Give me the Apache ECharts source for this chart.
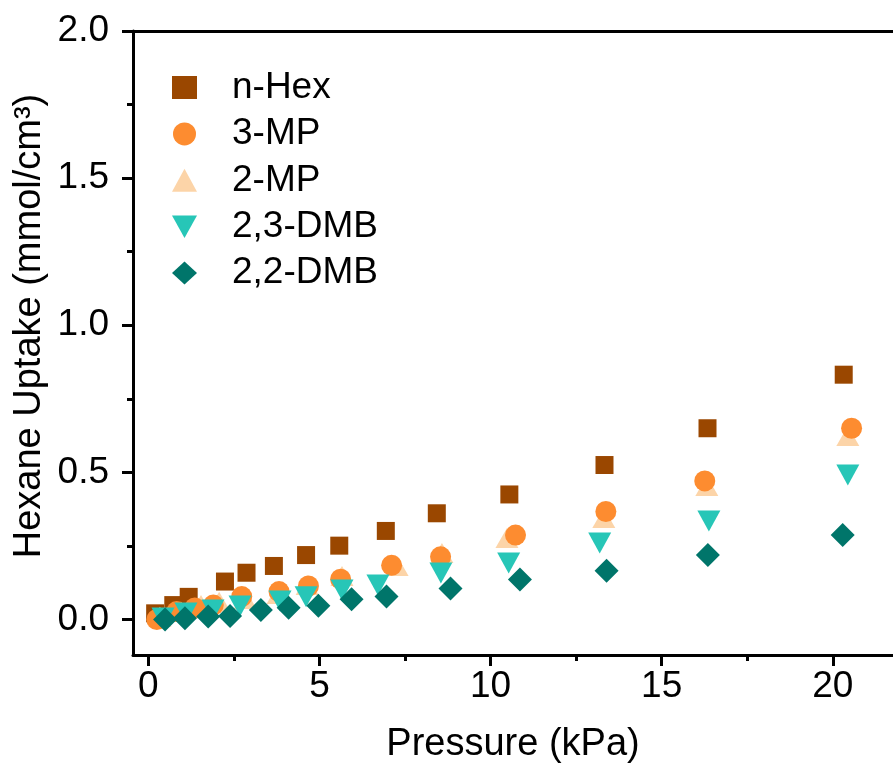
<!DOCTYPE html>
<html>
<head>
<meta charset="utf-8">
<script src="https://cdn.jsdelivr.net/npm/echarts@6/dist/echarts.min.js"></script>
<style>
html,body{margin:0;padding:0;background:#fff;}
#chart{width:893px;height:776px;}
</style>
</head>
<body>
<div id="chart"></div>
<script>
// ---- data ----
const seriesNames = ['n-Hex', '3-MP', '2-MP', '2,3-DMB', '2,2-DMB'];

const nHexP = [0.20, 0.73, 1.18, 2.24, 2.87, 3.67, 4.61, 5.58, 6.94, 8.43, 10.55, 13.33, 16.34, 20.32];
const nHexU = [0.021, 0.049, 0.077, 0.129, 0.159, 0.182, 0.219, 0.251, 0.301, 0.361, 0.425, 0.525, 0.650, 0.832];

const mp3P = [0.25, 0.83, 1.36, 1.90, 2.73, 3.82, 4.68, 5.62, 7.11, 8.54, 10.73, 13.37, 16.26, 20.55];
const mp3U = [0.000, 0.027, 0.039, 0.049, 0.078, 0.095, 0.114, 0.137, 0.184, 0.213, 0.287, 0.367, 0.471, 0.650];

const mp2P = [0.34, 0.96, 1.54, 2.07, 2.83, 3.79, 4.64, 5.66, 7.27, 8.58, 10.48, 13.31, 16.32, 20.44];
const mp2U = [0.009, 0.026, 0.049, 0.060, 0.070, 0.087, 0.117, 0.148, 0.182, 0.226, 0.277, 0.345, 0.454, 0.624];

const dmb23P = [0.43, 1.10, 1.89, 2.68, 3.85, 4.61, 5.66, 6.71, 8.55, 10.53, 13.19, 16.38, 20.44];
const dmb23U = [0.005, 0.022, 0.032, 0.046, 0.063, 0.077, 0.100, 0.117, 0.158, 0.192, 0.260, 0.335, 0.491];

const dmb22P = [0.49, 1.07, 1.75, 2.39, 3.29, 4.10, 4.97, 5.94, 6.96, 8.83, 10.86, 13.39, 16.35, 20.29];
const dmb22U = [0.000, 0.004, 0.010, 0.012, 0.032, 0.040, 0.047, 0.069, 0.078, 0.105, 0.136, 0.166, 0.219, 0.287];

const xMajorTicks = [0, 5, 10, 15, 20];
const xMinorTicks = [2.5, 7.5, 12.5, 17.5];
const yMajorTicks = [0, 0.5, 1.0, 1.5, 2.0];
const yMinorTicks = [0.25, 0.75, 1.25, 1.75];

const xTitle = 'Pressure (kPa)';
const yTitle = 'Hexane Uptake (mmol/cm³)';

// ---- chart ----
const FONT = "'Liberation Sans', Arial, Helvetica, sans-serif";
const FS = 37;
const FT = 38;
const X_MIN = -0.447, X_MAX = 21.76, Y_MIN = -0.1206, Y_MAX = 2.0;
const gridBox = { left: 133, top: 31, right: 0, bottom: 121 };

function pairs(xs, ys) { return xs.map((x, i) => [x, ys[i]]); }

const chart = echarts.init(document.getElementById('chart'), null, { renderer: 'canvas' });

const lineStyle = { color: '#000', width: 3 };

chart.setOption({
  animation: false,
  backgroundColor: '#fff',
  grid: [
    Object.assign({ containLabel: false }, gridBox),
    Object.assign({ containLabel: false }, gridBox)
  ],
  xAxis: [
    {
      gridIndex: 0, type: 'value', position: 'bottom', min: X_MIN, max: X_MAX,
      splitLine: { show: false },
      axisLine: { show: true, onZero: false, lineStyle: lineStyle },
      axisTick: { show: true, length: 11, lineStyle: { width: 3, color: '#000' }, customValues: xMajorTicks },
      axisLabel: { show: true, customValues: xMajorTicks, margin: 13, color: '#000', fontSize: FS, fontFamily: FONT,
                   formatter: v => String(Math.round(v)) }
    },
    {
      gridIndex: 0, type: 'value', position: 'top', min: X_MIN, max: X_MAX,
      splitLine: { show: false },
      axisLine: { show: true, onZero: false, lineStyle: lineStyle },
      axisTick: { show: false }, axisLabel: { show: false }
    },
    {
      gridIndex: 1, type: 'value', position: 'bottom', min: X_MIN, max: X_MAX,
      splitLine: { show: false },
      axisLine: { show: false, onZero: false },
      axisTick: { show: true, length: 6, lineStyle: { width: 3, color: '#000' }, customValues: xMinorTicks },
      axisLabel: { show: false }
    }
  ],
  yAxis: [
    {
      gridIndex: 0, type: 'value', position: 'left', min: Y_MIN, max: Y_MAX,
      splitLine: { show: false },
      axisLine: { show: true, onZero: false, lineStyle: lineStyle },
      axisTick: { show: true, length: 11, lineStyle: { width: 3, color: '#000' }, customValues: yMajorTicks },
      axisLabel: { show: true, customValues: yMajorTicks, margin: 24, color: '#000', fontSize: FS, fontFamily: FONT,
                   formatter: v => v.toFixed(1) }
    },
    {
      gridIndex: 1, type: 'value', position: 'left', min: Y_MIN, max: Y_MAX,
      splitLine: { show: false },
      axisLine: { show: false, onZero: false },
      axisTick: { show: true, length: 6, lineStyle: { width: 3, color: '#000' }, customValues: yMinorTicks },
      axisLabel: { show: false }
    }
  ],
  legend: {
    orient: 'vertical',
    left: 167,
    top: 64,
    itemWidth: 25,
    itemHeight: 23,
    itemGap: 9.4,
    data: [
      { name: seriesNames[0], icon: 'rect' },
      { name: seriesNames[1], icon: 'circle' },
      { name: seriesNames[2], icon: 'triangle' },
      { name: seriesNames[3], icon: 'path://M0,0 L2,0 L1,1.8 Z' },
      { name: seriesNames[4], icon: 'diamond' }
    ],
    textStyle: { color: '#000', fontSize: FS, fontFamily: FONT, lineHeight: 37, padding: [0, 0, 0, 30] },
    selectedMode: false
  },
  graphic: [
    { type: 'text', x: 30, y: 326, rotation: Math.PI / 2,
      style: { text: yTitle, fill: '#000', font: FT + 'px ' + FONT, align: 'center', verticalAlign: 'middle' } },
    { type: 'text', x: 513, y: 745,
      style: { text: xTitle, fill: '#000', font: FT + 'px ' + FONT, align: 'center', verticalAlign: 'middle' } }
  ],
  series: [
    { name: 'n-Hex', type: 'scatter', xAxisIndex: 0, yAxisIndex: 0, symbol: 'rect', symbolSize: 18,
      itemStyle: { color: '#9A4700', opacity: 1 }, data: pairs(nHexP, nHexU) },
    { name: '2-MP', type: 'scatter', xAxisIndex: 0, yAxisIndex: 0, symbol: 'triangle', symbolSize: [23, 20],
      itemStyle: { color: '#FCD4A8', opacity: 1 }, data: pairs(mp2P, mp2U) },
    { name: '3-MP', type: 'scatter', xAxisIndex: 0, yAxisIndex: 0, symbol: 'circle', symbolSize: 21,
      itemStyle: { color: '#FD8C30', opacity: 1 }, data: pairs(mp3P, mp3U) },
    { name: '2,3-DMB', type: 'scatter', xAxisIndex: 0, yAxisIndex: 0, symbol: 'triangle', symbolRotate: 180, symbolSize: [23, 21],
      itemStyle: { color: '#27C6B7', opacity: 1 }, data: pairs(dmb23P, dmb23U) },
    { name: '2,2-DMB', type: 'scatter', xAxisIndex: 0, yAxisIndex: 0, symbol: 'diamond', symbolSize: 24,
      itemStyle: { color: '#00756A', opacity: 1 }, data: pairs(dmb22P, dmb22U) }
  ]
});
</script>
</body>
</html>
